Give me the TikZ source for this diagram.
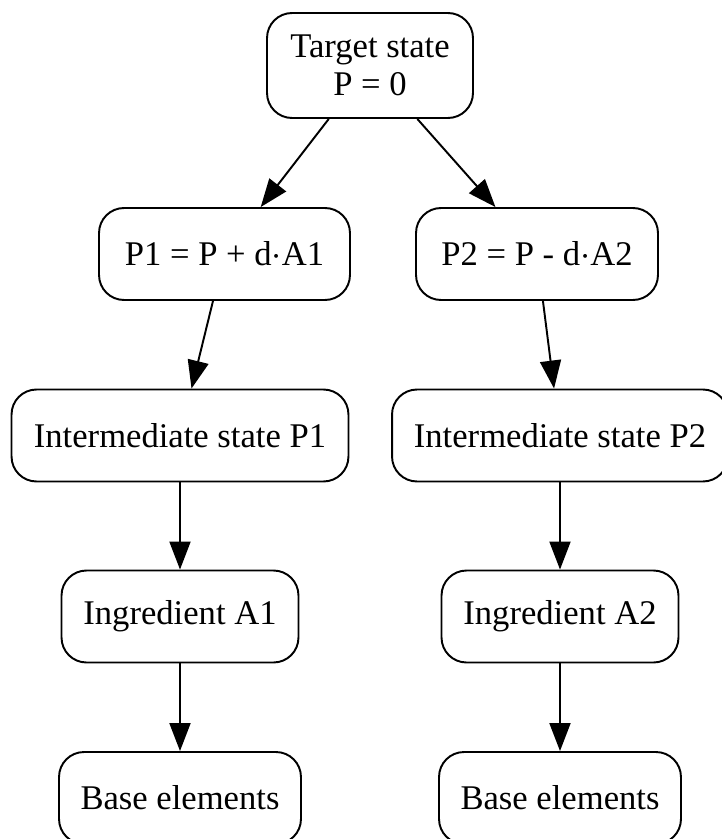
\documentclass[tikz,border=0pt]{standalone}
\usepackage{fontspec}
\setmainfont{Liberation Serif}
\usetikzlibrary{arrows.meta}

\tikzset{
  box/.style={draw,line width=1.1pt,rounded corners=0.5cm,align=center,
    inner sep=0pt,minimum height=1.84cm,
    font=\fontsize{19.7}{21.6}\selectfont},
  link/.style={line width=1.1pt,-{Triangle[length=0.56cm,width=0.42cm]}}
}

\begin{document}
\begin{tikzpicture}
        [x=0.02cm,y=-0.02cm]
        \useasboundingbox (0,0) rectangle (721,839);

        \node[box,minimum width=4.12cm,minimum height=2.1cm] (target) at (370,65.5) {Target state\\P = 0};

        \node[box,minimum width=5.02cm] (p1) at (224.5,254) {P1 = P + d$\cdot$A1};
        \node[box,minimum width=4.84cm] (p2) at (537,254) {P2 = P - d$\cdot$A2};

        \node[box,minimum width=6.74cm] (inter1) at (180,435.5) {Intermediate state P1};
        \node[box,minimum width=6.72cm] (inter2) at (560,435.5) {Intermediate state P2};

        \node[box,minimum width=4.74cm] (ingr1) at (180,616.5) {Ingredient A1};
        \node[box,minimum width=4.74cm] (ingr2) at (560,616.5) {Ingredient A2};

        \node[box,minimum width=4.84cm] (base1) at (180,798) {Base elements};
        \node[box,minimum width=4.84cm] (base2) at (560,798) {Base elements};

        \draw[link] (target) -- (p1);
        \draw[link] (target) -- (p2);

        \draw[link] (p1) -- (inter1);
        \draw[link] (p2) -- (inter2);

        \draw[link] (inter1) -- (ingr1);
        \draw[link] (inter2) -- (ingr2);

        \draw[link] (ingr1) -- (base1);
        \draw[link] (ingr2) -- (base2);
      \end{tikzpicture}
\end{document}
